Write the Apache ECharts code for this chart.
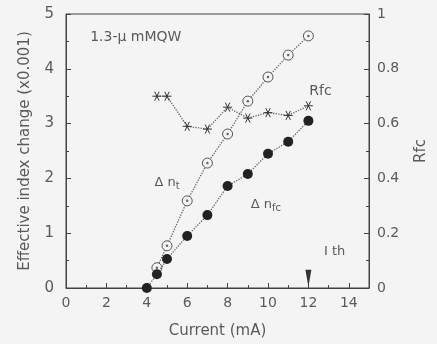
<!DOCTYPE html>
<html>
<head>
<meta charset="utf-8">
<script src="https://cdn.jsdelivr.net/npm/echarts@6/dist/echarts.min.js"></script>
<style>
  html, body { margin: 0; padding: 0; background: #f4f4f4; }
  #chart { width: 437px; height: 344px; }
</style>
</head>
<body>
<div id="chart"></div>
<script>
// current (mA) for each series
const currentNt = [4.5, 5, 6, 7, 8, 9, 10, 11, 12]
const deltaNt = [0.37, 0.77, 1.59, 2.28, 2.81, 3.41, 3.85, 4.25, 4.6]

const currentNfc = [4, 4.5, 5, 6, 7, 8, 9, 10, 11, 12]
const deltaNfc = [0, 0.25, 0.53, 0.95, 1.33, 1.86, 2.08, 2.45, 2.67, 3.05]

const currentRfc = [4.5, 5, 6, 7, 8, 9, 10, 11, 12]
const rfc = [0.70, 0.70, 0.59, 0.58, 0.66, 0.62, 0.64, 0.63, 0.665]

const ithCurrent = 12

const TXT = '#5a5a5a'
const LINE = '#444'
const FONT = 'DejaVu Sans, sans-serif'

const pairs = (xs, ys) => xs.map((x, i) => [x, ys[i]])

// asterisk marker: one horizontal and two slanted strokes
const STAR = 'path://M0,5 L10,5 M2.5,0.7 L7.5,9.3 M2.5,9.3 L7.5,0.7'

function textPoint(coord, text, extra) {
  return {
    coord,
    symbol: 'circle',
    symbolSize: 0,
    label: Object.assign({
      show: true,
      position: 'inside',
      formatter: text,
      color: TXT,
      fontFamily: FONT,
      fontSize: 13
    }, extra || {})
  }
}

const subRich = {
  a: { color: TXT, fontSize: 13, fontFamily: FONT },
  s: { color: TXT, fontSize: 10, fontFamily: FONT, padding: [8, 0, 0, 0] }
}

const chart = echarts.init(document.getElementById('chart'))
chart.setOption({
  backgroundColor: '#f4f4f4',
  animation: false,
  textStyle: { fontFamily: FONT },
  grid: { left: 66, right: 61, top: 14, bottom: 56, show: true, borderColor: LINE, borderWidth: 1 },
  xAxis: {
    type: 'value',
    min: 0,
    max: 15,
    interval: 2,
    name: 'Current (mA)',
    nameLocation: 'middle',
    nameGap: 36,
    nameTextStyle: { color: TXT, fontSize: 15, fontFamily: FONT },
    axisLine: { lineStyle: { color: LINE } },
    axisTick: { inside: true, length: 5, lineStyle: { color: LINE } },
    minorTick: { show: true, splitNumber: 2, length: 3, lineStyle: { color: LINE } },
    axisLabel: { color: TXT, fontSize: 14, fontFamily: FONT, margin: 8, showMaxLabel: false },
    splitLine: { show: false }
  },
  yAxis: [
    {
      type: 'value',
      min: 0,
      max: 5,
      interval: 1,
      name: 'Effective index change (x0.001)',
      nameLocation: 'middle',
      nameRotate: 90,
      nameGap: 33,
      nameTextStyle: { color: TXT, fontSize: 15, fontFamily: FONT },
      axisLine: { show: true, lineStyle: { color: LINE } },
      axisTick: { inside: true, length: 5, lineStyle: { color: LINE } },
      minorTick: { show: true, splitNumber: 2, length: 3, lineStyle: { color: LINE } },
      axisLabel: { color: TXT, fontSize: 15, fontFamily: FONT, margin: 12 },
      splitLine: { show: false }
    },
    {
      type: 'value',
      min: 0,
      max: 1,
      interval: 0.2,
      name: 'Rfc',
      nameLocation: 'middle',
      nameRotate: 90,
      nameGap: 45,
      nameTextStyle: { color: TXT, fontSize: 15, fontFamily: FONT },
      axisLine: { show: true, lineStyle: { color: LINE } },
      axisTick: { inside: true, length: 5, lineStyle: { color: LINE } },
      minorTick: { show: true, splitNumber: 2, length: 3, lineStyle: { color: LINE } },
      axisLabel: { color: TXT, fontSize: 14, fontFamily: FONT, margin: 8 },
      splitLine: { show: false }
    }
  ],
  series: [
    {
      name: 'Rfc',
      type: 'line',
      yAxisIndex: 1,
      data: pairs(currentRfc, rfc),
      symbol: STAR,
      symbolSize: 9,
      itemStyle: { color: 'none', borderColor: '#333', borderWidth: 1 },
      lineStyle: { color: '#666', width: 1.3, type: 'dotted' },
      z: 3
    },
    {
      name: 'dnt',
      type: 'line',
      data: pairs(currentNt, deltaNt),
      symbol: 'circle',
      symbolSize: 10,
      itemStyle: { color: '#f4f4f4', borderColor: '#555', borderWidth: 1 },
      lineStyle: { color: '#666', width: 1.3, type: 'dotted' },
      markPoint: {
        silent: true,
        data: [
          textPoint([0.95, 4.58], '1.3-\u03bc mMQW', { position: 'right', fontSize: 14 }),
          textPoint([12.6, 3.58], 'Rfc', { fontSize: 14 }),
          textPoint([5.0, 1.93], '{a|\u0394 n}{s|t}', { rich: subRich }),
          textPoint([9.9, 1.52], '{a|\u0394 n}{s|fc}', { rich: subRich }),
          textPoint([13.3, 0.66], 'I th', { fontSize: 13 })
        ]
      },
      z: 4
    },
    {
      name: 'dnt-dot',
      type: 'scatter',
      data: pairs(currentNt, deltaNt),
      symbol: 'circle',
      symbolSize: 2.5,
      itemStyle: { color: '#444' },
      z: 5
    },
    {
      name: 'dnfc',
      type: 'line',
      data: pairs(currentNfc, deltaNfc),
      symbol: 'circle',
      symbolSize: 10,
      itemStyle: { color: '#222' },
      lineStyle: { color: '#666', width: 1.3, type: 'dotted' },
      markPoint: {
        silent: true,
        data: [{
          coord: [ithCurrent, 0.18],
          symbol: 'path://M0,0 L10,0 L5,30 Z',
          symbolSize: [6, 17],
          itemStyle: { color: '#333' },
          label: { show: false }
        }]
      },
      z: 6
    }
  ]
})
</script>
</body>
</html>
